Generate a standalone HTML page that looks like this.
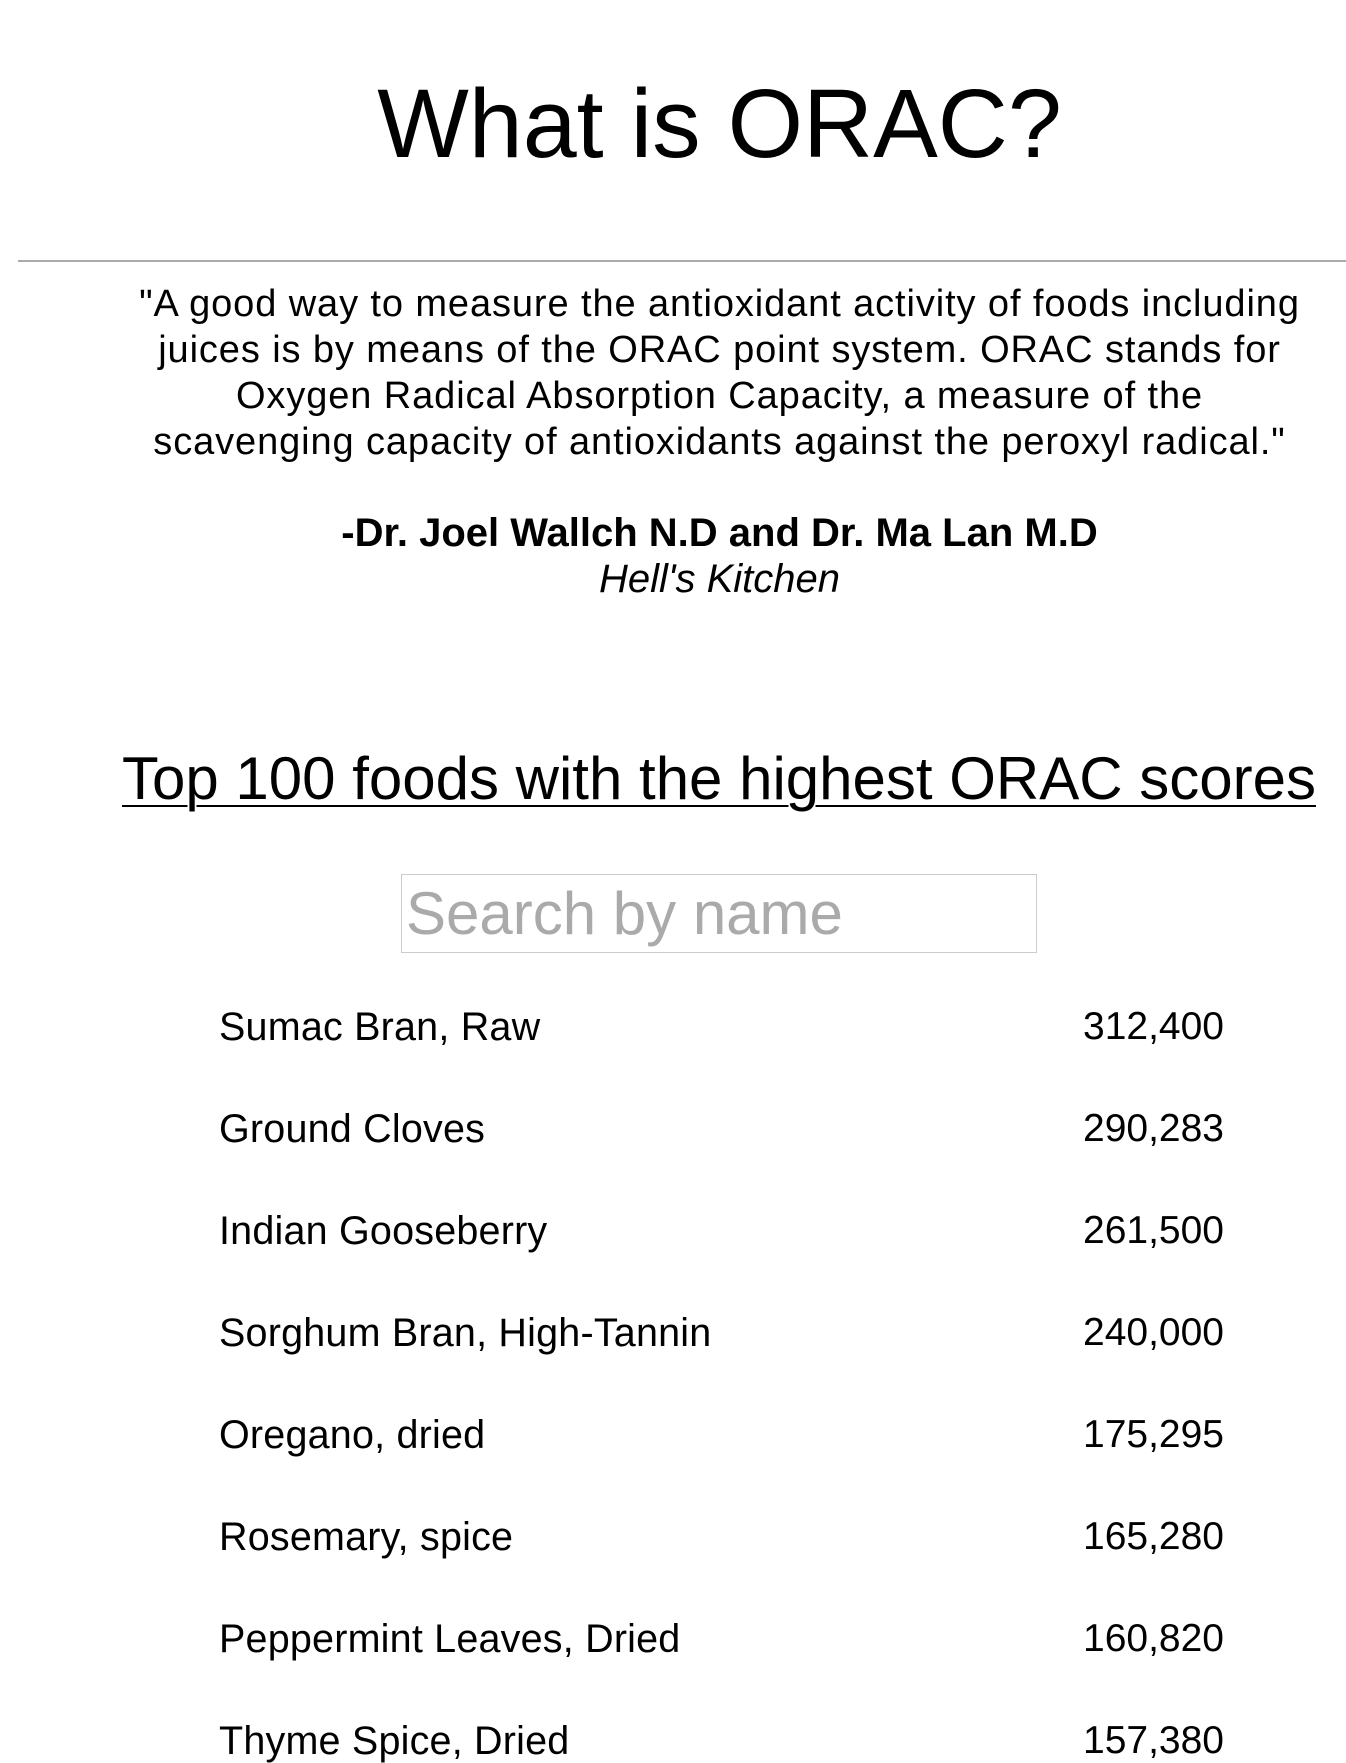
<!DOCTYPE html>
<html><head><meta charset="utf-8"><style>
html,body{margin:0;padding:0;background:#fff;}
body{width:1346px;height:1754px;overflow:hidden;position:relative;font-family:"Liberation Sans",sans-serif;color:#000;}
.abs{position:absolute;}
#title{left:0;width:1439px;top:64px;text-align:center;font-size:97px;font-weight:300;line-height:120px;}
#hr{left:18px;right:0;top:260px;height:0;border-top:2px solid #aaa;}
#quote{left:0;width:1439px;top:281px;text-align:center;font-size:38px;letter-spacing:0.9px;line-height:46px;}
#author{left:0;width:1439px;top:510px;text-align:center;font-size:40px;font-weight:bold;line-height:46px;}
#book{left:0;width:1439px;top:556px;text-align:center;font-size:40px;font-style:italic;line-height:46px;}
#heading{left:80px;width:1278px;top:746px;text-align:center;font-size:60px;line-height:66px;text-decoration:underline;text-underline-offset:6px;text-decoration-thickness:2px;}
#search{left:401px;top:874px;width:636px;height:79px;border:1px solid #ccc;box-sizing:border-box;font-size:60px;color:#aaa;padding-left:4px;line-height:76px;font-family:"Liberation Sans",sans-serif;}
#search::placeholder{color:#aaa;}
.name{left:219px;font-size:39.5px;letter-spacing:0.2px;line-height:44px;}
.val{right:122px;font-size:39px;line-height:44px;text-align:right;}
</style></head><body>
<div class="abs" id="title">What is ORAC?</div>
<div class="abs" id="hr"></div>
<div class="abs" id="quote">"A good way to measure the antioxidant activity of foods including<br>juices is by means of the ORAC point system. ORAC stands for<br>Oxygen Radical Absorption Capacity, a measure of the<br>scavenging capacity of antioxidants against the peroxyl radical."</div>
<div class="abs" id="author">-Dr. Joel Wallch N.D and Dr. Ma Lan M.D</div>
<div class="abs" id="book">Hell's Kitchen</div>
<div class="abs" id="heading">Top 100 foods with the highest ORAC scores</div>
<input class="abs" id="search" placeholder="Search by name">
<div id="list"></div>
<script>
const foods=["Sumac Bran, Raw","Ground Cloves","Indian Gooseberry","Sorghum Bran, High-Tannin","Oregano, dried","Rosemary, spice","Peppermint Leaves, Dried","Thyme Spice, Dried"];
const scores=[312400,290283,261500,240000,175295,165280,160820,157380];
const list=document.getElementById('list');
const top0=1005,step=102;
foods.forEach((f,i)=>{
  const n=document.createElement('div');
  n.className='abs name';n.style.top=(top0+i*step)+'px';n.textContent=f;
  
  
  const v=document.createElement('div');
  v.className='abs val';v.style.top=(top0+i*step)+'px';v.textContent=scores[i].toLocaleString('en-US');
  
  
  list.appendChild(n);list.appendChild(v);
});
</script>
</body></html>
